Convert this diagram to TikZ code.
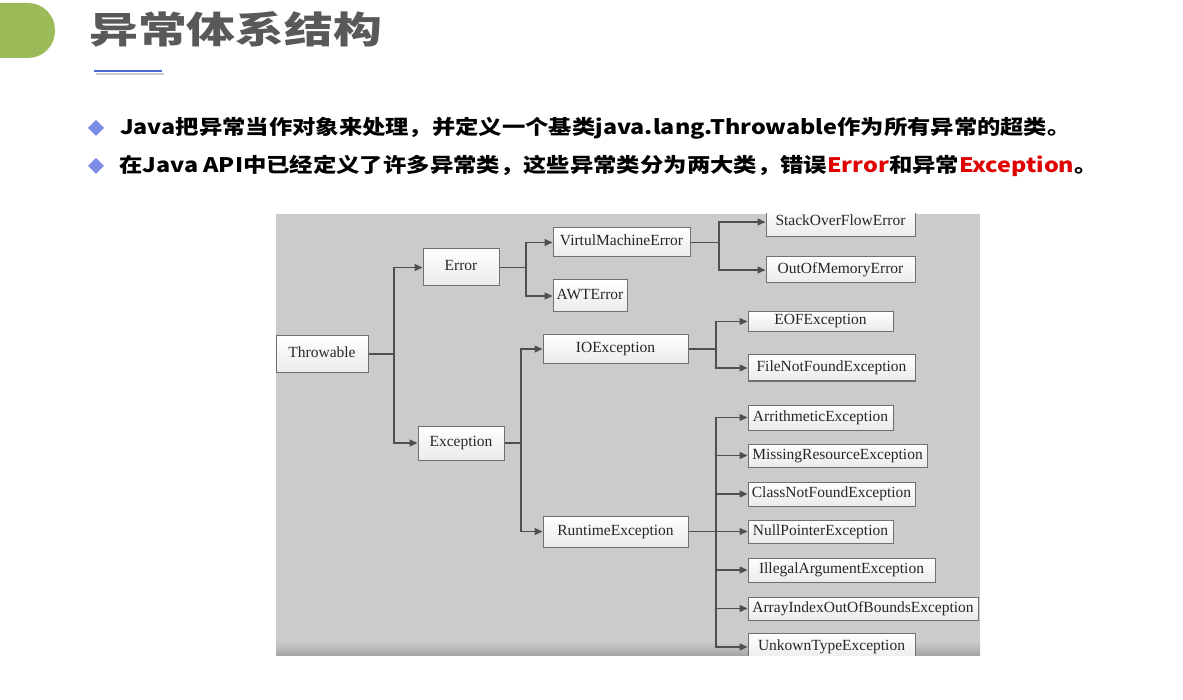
\documentclass[tikz,border=0pt]{standalone}
\usepackage{graphicx}
\usepackage{fontspec}
\setmainfont{Liberation Serif}
\newfontfamily\cjk{Noto Sans CJK SC}
\usetikzlibrary{arrows.meta}
\definecolor{slideGreen}{HTML}{9BBB59}
\definecolor{titleGray}{HTML}{595959}
\definecolor{lineBlue}{HTML}{4A67D6}
\definecolor{bulletBlue}{HTML}{7C8CE6}
\definecolor{panelGray}{HTML}{CBCBCB}
\definecolor{boxLine}{HTML}{707070}
\definecolor{linkGray}{HTML}{4F4F4F}
\definecolor{errRed}{HTML}{E00000}
\newcommand{\exTitle}[1]{\scalebox{1.32}[1]{\fontsize{37}{42}\selectfont\cjk\bfseries #1}}
\newcommand{\exBullet}[2]{\scalebox{#1}[1]{\fontsize{20}{24}\selectfont\cjk\bfseries #2}}

\begin{document}
\begin{tikzpicture}[x=1pt,y=-1pt,
  classBox/.style={draw=boxLine, line width=1pt, top color=white, bottom color=black!8,
    inner sep=0pt, text height=9.5pt, text depth=2.5pt, text=black!85, font=\fontsize{15.5}{17}\selectfont},
  link/.style={draw=linkGray, line width=1.3pt},
  arr/.style={link, -{Triangle[length=8pt,width=7pt]}},
  bulletMark/.style={fill=bulletBlue}]
\useasboundingbox (0,0) rectangle (1183,700);
\fill[slideGreen, rounded corners=27pt] (-40,3) rectangle (55,58);
\node[anchor=west, inner sep=0pt, text=titleGray] (title) at (89,29) {\exTitle{异常体系结构}};
\draw[black!20, line width=2pt] (96,74) -- (164,74);
\draw[lineBlue, line width=2.5pt] (94,71) -- (162,71);
\fill[bulletMark] (96,120) -- (104,128) -- (96,136) -- (88,128) -- cycle;
\fill[bulletMark] (96,158) -- (104,166) -- (96,174) -- (88,166) -- cycle;
\node[anchor=west, inner sep=0pt] (lineA) at (120,128) {\exBullet{1.166}{Java把异常当作对象来处理，并定义一个基类java.lang.Throwable作为所有异常的超类。}};
\node[anchor=west, inner sep=0pt] (lineB) at (119,166) {\exBullet{1.168}{在Java API中已经定义了许多异常类，这些异常类分为两大类，错误\textcolor{errRed}{Error}和异常\textcolor{errRed}{Exception}。}};
\begin{scope}
\clip (276,214) rectangle (980,655);
\fill[panelGray] (276,214) rectangle (980,655);
\shade[top color=panelGray, bottom color=black!35] (276,642) rectangle (980,655);
\node[classBox, minimum width=92pt, minimum height=37pt] (throw) at (322,354) {Throwable};
\node[classBox, minimum width=76pt, minimum height=37pt] (err) at (461,267.5) {Error};
\node[classBox, minimum width=86pt, minimum height=34pt] (exc) at (461,443) {Exception};
\node[classBox, minimum width=137pt, minimum height=29pt] (vme) at (621.5,242.5) {VirtulMachineError};
\node[classBox, minimum width=74pt, minimum height=32pt] (awt) at (590,296) {AWTError};
\node[classBox, minimum width=145pt, minimum height=29pt] (ioe) at (615.5,349) {IOException};
\node[classBox, minimum width=145pt, minimum height=31pt] (rte) at (615.5,531.5) {RuntimeException};
\node[classBox, minimum width=149pt, minimum height=30pt] (sof) at (840.5,222) {StackOverFlowError};
\node[classBox, minimum width=149pt, minimum height=26pt] (oom) at (840.5,270) {OutOfMemoryError};
\node[classBox, minimum width=145pt, minimum height=20pt] (eof) at (820.5,321.5) {EOFException};
\node[classBox, minimum width=167pt, minimum height=26pt] (fnf) at (831.5,368) {FileNotFoundException};
\node[classBox, minimum width=145pt, minimum height=25pt] (ari) at (820.5,417.5) {ArrithmeticException};
\node[classBox, minimum width=179pt, minimum height=23pt] (mis) at (837.5,455.5) {MissingResourceException};
\node[classBox, minimum width=167pt, minimum height=24pt] (cnf) at (831.5,494) {ClassNotFoundException};
\node[classBox, minimum width=145pt, minimum height=23pt] (npe) at (820.5,531.5) {NullPointerException};
\node[classBox, minimum width=187pt, minimum height=24pt] (iae) at (841.5,570) {IllegalArgumentException};
\node[classBox, minimum width=230pt, minimum height=23pt] (aio) at (863,608.5) {ArrayIndexOutOfBoundsException};
\node[classBox, minimum width=167pt, minimum height=27pt] (ute) at (831.5,647) {UnkownTypeException};
\coordinate (jThrow) at (394,354);
\coordinate (jErr) at (526,267.5);
\coordinate (jExc) at (521,443);
\coordinate (jVme) at (719,242.5);
\coordinate (jIoe) at (716,349);
\coordinate (jRte) at (716,531.5);
\draw[link] (throw.east) -- (jThrow);
\draw[arr] (jThrow) |- (err.west);
\draw[arr] (jThrow) |- (exc.west);
\draw[link] (err.east) -- (jErr);
\draw[arr] (jErr) |- (vme.west);
\draw[arr] (jErr) |- (awt.west);
\draw[link] (exc.east) -- (jExc);
\draw[arr] (jExc) |- (ioe.west);
\draw[arr] (jExc) |- (rte.west);
\draw[link] (vme.east) -- (jVme);
\draw[arr] (jVme) |- (sof.west);
\draw[arr] (jVme) |- (oom.west);
\draw[link] (ioe.east) -- (jIoe);
\draw[arr] (jIoe) |- (eof.west);
\draw[arr] (jIoe) |- (fnf.west);
\draw[link] (rte.east) -- (jRte);
\foreach \n in {ari,mis,cnf,npe,iae,aio,ute}
  \draw[arr] (jRte) |- (\n.west);
\end{scope}
\end{tikzpicture}
\end{document}
